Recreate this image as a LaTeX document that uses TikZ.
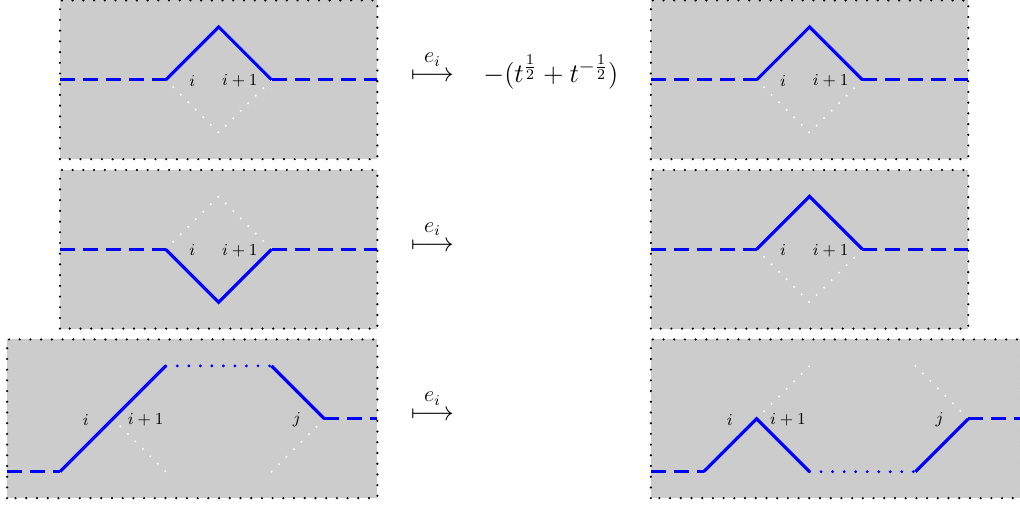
\documentclass[tikz,border=0pt]{standalone}
\tikzset{
  panel/.style={fill=black!20},
  frame/.style={draw=black, line width=1.3pt, line cap=round, dash pattern=on 0pt off 5.76pt},
  strand/.style={draw=blue, line width=1.7pt},
  dsh/.style={strand, dash pattern=on 8.07pt off 4.3pt},
  dts/.style={strand, line cap=round, dash pattern=on 0pt off 6.2pt},
  ghost/.style={draw=white, line width=1.2pt, line cap=round, dash pattern=on 0pt off 5.7pt},
  lbl/.style={font=\small, inner sep=0pt},
  arr/.style={font=\Large, inner sep=0pt, anchor=base},
  ei/.style={font=\large, inner sep=0pt, anchor=base},
}
\begin{document}
\begin{tikzpicture}
\useasboundingbox (-1.134,-8.075) rectangle (18.148,1.509);
% ---------- row 1 ----------
\foreach \dx/\nm in {0/a,11.17/b}{
\begin{scope}[shift={(\dx,0)}]
  \fill[panel] (0,-1.5) rectangle (6,1.5);
  \draw[ghost] (2,0) -- (3,-1) -- (4,0);
  \draw[dsh] (0,0) -- (2,0);
  \draw[strand] (2,0) -- (3,1) -- (4,0);
  \draw[dsh] (4,0) -- (6,0);
  \node[lbl] (r1\nm i) at (2.5,-0.02) {$i$};
  \node[lbl] (r1\nm j) at (3.4,-0.02) {$i+1$};
  \draw[frame] (0,-1.5) rectangle (6,1.5);
\end{scope}
}
\node[arr] (m1) at (7.04,-0.04) {$\longmapsto$};
\node[ei] (e1) at (7.04,0.32) {$e_i$};
\node[arr, font=\fontsize{15.4}{18}\selectfont] (c1) at (9.28,-0.05) {$-(t^{\frac{1}{2}}+t^{-\frac{1}{2}})$};
% ---------- row 2 ----------
\begin{scope}[shift={(0,-3.204)}]
  \fill[panel] (0,-1.5) rectangle (6,1.5);
  \draw[ghost] (2,0) -- (3,1) -- (4,0);
  \draw[dsh] (0,0) -- (2,0);
  \draw[strand] (2,0) -- (3,-1) -- (4,0);
  \draw[dsh] (4,0) -- (6,0);
  \node[lbl] (r2ai) at (2.5,-0.02) {$i$};
  \node[lbl] (r2aj) at (3.4,-0.02) {$i+1$};
  \draw[frame] (0,-1.5) rectangle (6,1.5);
  \node[arr] (m2) at (7.04,-0.04) {$\longmapsto$};
  \node[ei] (e2) at (7.04,0.32) {$e_i$};
\end{scope}
\begin{scope}[shift={(11.17,-3.204)}]
  \fill[panel] (0,-1.5) rectangle (6,1.5);
  \draw[ghost] (2,0) -- (3,-1) -- (4,0);
  \draw[dsh] (0,0) -- (2,0);
  \draw[strand] (2,0) -- (3,1) -- (4,0);
  \draw[dsh] (4,0) -- (6,0);
  \node[lbl] (r2bi) at (2.5,-0.02) {$i$};
  \node[lbl] (r2bj) at (3.4,-0.02) {$i+1$};
  \draw[frame] (0,-1.5) rectangle (6,1.5);
\end{scope}
% ---------- row 3 ----------
\begin{scope}[shift={(0,-6.408)}]
  \fill[panel] (-1,-1.5) rectangle (6,1.5);
  \draw[ghost] (1,0) -- (2,-1);
  \draw[ghost] (4,-1) -- (5,0);
  \draw[dsh] (-1,-1) -- (0,-1);
  \draw[strand] (0,-1) -- (2,1);
  \draw[dts] (2,1) -- (4,1);
  \draw[strand] (4,1) -- (5,0);
  \draw[dsh] (5,0) -- (6,0);
  \node[lbl] (r3ai) at (0.49,-0.02) {$i$};
  \node[lbl] (r3aj) at (1.62,-0.02) {$i+1$};
  \node[lbl] (r3ak) at (4.48,-0.02) {$j$};
  \draw[frame] (-1,-1.5) rectangle (6,1.5);
  \node[arr] (m3) at (7.04,-0.04) {$\longmapsto$};
  \node[ei] (e3) at (7.04,0.32) {$e_i$};
\end{scope}
\begin{scope}[shift={(11.17,-6.408)}]
  \fill[panel] (0,-1.5) rectangle (7,1.5);
  \draw[ghost] (2,0) -- (3,1);
  \draw[ghost] (5,1) -- (6,0);
  \draw[dsh] (0,-1) -- (1,-1);
  \draw[strand] (1,-1) -- (2,0) -- (3,-1);
  \draw[dts] (3,-1) -- (5,-1);
  \draw[strand] (5,-1) -- (6,0);
  \draw[dsh] (6,0) -- (7,0);
  \node[lbl] (r3bi) at (1.49,-0.02) {$i$};
  \node[lbl] (r3bj) at (2.59,-0.02) {$i+1$};
  \node[lbl] (r3bk) at (5.46,-0.02) {$j$};
  \draw[frame] (0,-1.5) rectangle (7,1.5);
\end{scope}
\end{tikzpicture}
\end{document}
